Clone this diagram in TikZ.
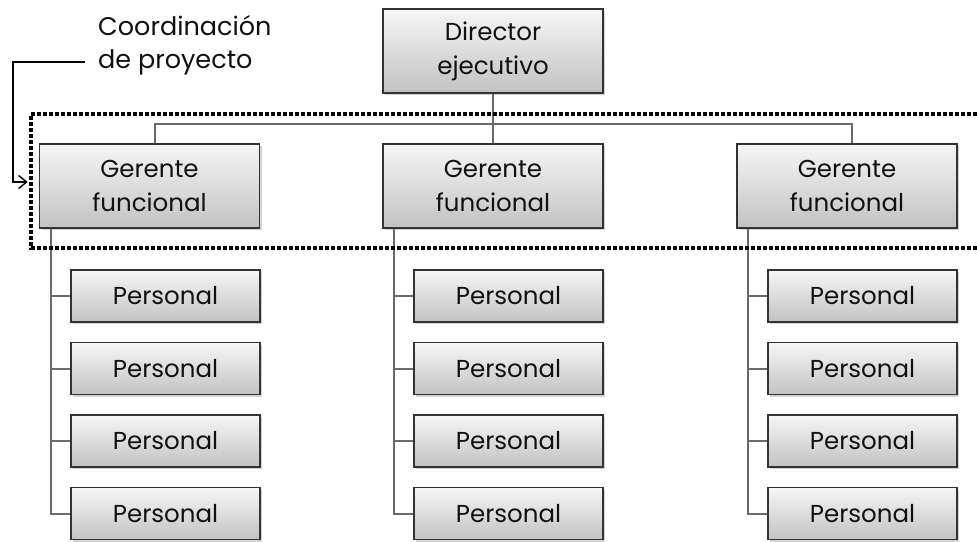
\documentclass[tikz,border=0pt]{standalone}
\usepackage{fontspec}
\setmainfont{Poppins}
\usetikzlibrary{arrows.meta,shadows,calc}

\definecolor{boxline}{HTML}{333333}
\definecolor{boxtop}{HTML}{F6F6F6}
\definecolor{boxbot}{HTML}{C2C2C2}
\definecolor{linkgray}{HTML}{6A6A6A}
\definecolor{ink}{HTML}{111111}

\begin{document}
\begin{tikzpicture}[x=1pt,y=-1pt,
  box/.style={draw=boxline, line width=1.5pt, top color=boxtop, bottom color=boxbot,
    drop shadow={shadow xshift=2pt, shadow yshift=-2pt, opacity=0.35},
    text=ink, font=\fontsize{24.5}{34}\selectfont, align=center, inner sep=0pt},
  headbox/.style={box, minimum width=220pt, minimum height=84pt},
  staffbox/.style={box, minimum width=189pt, minimum height=52pt},
  link/.style={draw=linkgray, line width=2pt},
  frame/.style={draw=black, line width=3.6pt, dash pattern=on 4pt off 2pt},
  pointer/.style={draw=black, line width=1.4pt, -{Straight Barb[length=8pt,width=13pt,line width=1.4pt]}},
  note/.style={text=ink, font=\fontsize{25.5}{34}\selectfont, inner sep=0pt, anchor=base west}
]
\useasboundingbox (0,0) rectangle (977,541);

% top of the hierarchy
\node[headbox] (dir) at (493,51) {Director\\ejecutivo};
\node[headbox] (gL) at (149.5,186) {Gerente\\funcional};
\node[headbox] (gM) at (493,186) {Gerente\\funcional};
\node[headbox] (gR) at (847,186) {Gerente\\funcional};

% staff under each functional manager
\foreach \col/\x in {L/165.5, M/508.5, R/862.5}{
  \foreach \i/\y in {1/296, 2/368.5, 3/441, 4/513.5}{
    \node[staffbox] (p\col\i) at (\x,\y) {Personal};
  }
}

% director to managers
\coordinate (bar) at ($(dir.south)!0.62!(gM.north)$);
\draw[link] (dir.south) -- (gM.north);
\draw[link] ([xshift=5pt]gL.north) |- (bar) -| ([xshift=5pt]gR.north);

% managers to staff
\foreach \col/\g in {L/gL, M/gM, R/gR}{
  \coordinate (t\col) at ([xshift=12pt]\g.south west);
  \draw[link] (t\col) |- (p\col4.west);
  \foreach \i in {1,2,3}{
    \draw[link] (p\col\i.west -| t\col) -- (p\col\i.west);
  }
}

% project coordination band
\draw[frame] (977,114) -- (31,114) -- (31,248) -- (977,248);

% label and pointer
\node[note] (coord) at (98,35) {Coordinación};
\node[note] (proj) at (98,68) {de proyecto};
\coordinate (tip) at ([xshift=-11pt,yshift=4pt]gL.west);
\draw[pointer] ([xshift=-13pt]proj.west) -- ++(-72,0) |- (tip);
\end{tikzpicture}
\end{document}
